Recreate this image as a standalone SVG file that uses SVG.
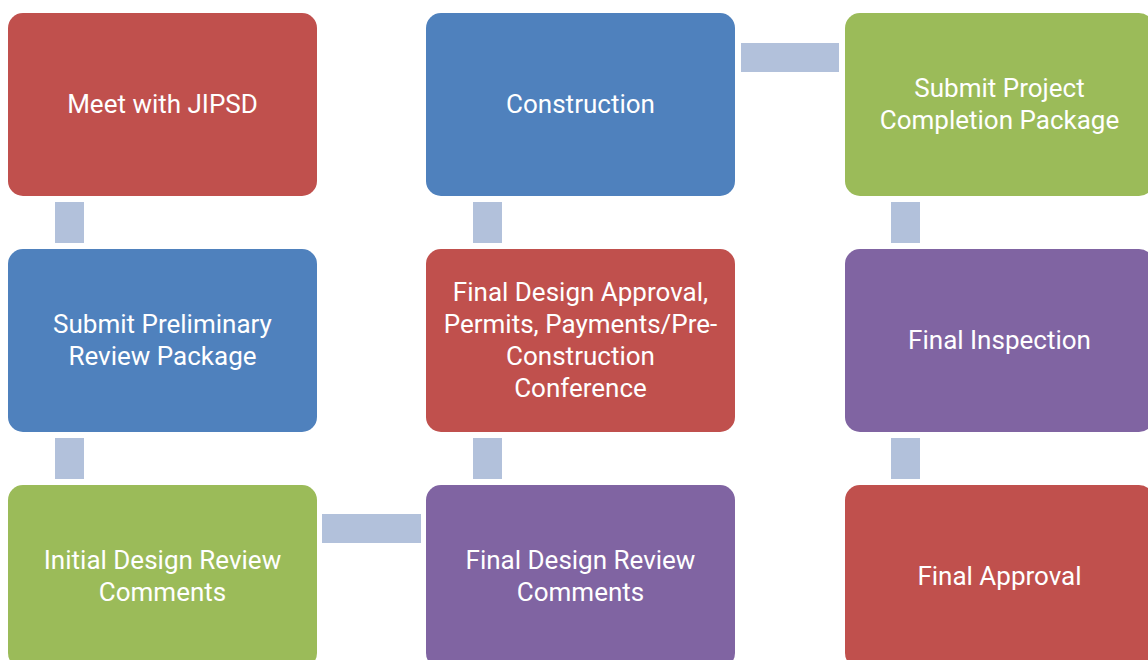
<svg xmlns="http://www.w3.org/2000/svg" width="1148" height="660" viewBox="0 0 1148 660">
<style>
.box{stroke:none}
.red{fill:#C0504D}.blue{fill:#4F81BD}.green{fill:#9BBB59}.purple{fill:#8064A2}
.conn{fill:#B2C1DB}
text{font-family:Roboto,"Liberation Sans",sans-serif;font-size:26px;fill:#FFFFFF;text-anchor:middle}
</style>
<rect width="1148" height="660" fill="#FFFFFF"/>
<g id="connectors">
<rect class="conn" x="55" y="202" width="29" height="41"/>
<rect class="conn" x="55" y="438" width="29" height="41"/>
<rect class="conn" x="322" y="514" width="99" height="29"/>
<rect class="conn" x="473" y="438" width="29" height="41"/>
<rect class="conn" x="473" y="202" width="29" height="41"/>
<rect class="conn" x="741" y="43" width="98" height="29"/>
<rect class="conn" x="891" y="202" width="29" height="41"/>
<rect class="conn" x="891" y="438" width="29" height="41"/>
</g>
<g id="n1"><rect class="box red" x="8" y="13" width="309" height="183" rx="15"/><text x="162.5" y="113">Meet with JIPSD</text></g>
<g id="n2"><rect class="box blue" x="8" y="249" width="309" height="183" rx="15"/><text x="162.5" y="333">Submit Preliminary</text><text x="162.5" y="365">Review Package</text></g>
<g id="n3"><rect class="box green" x="8" y="485" width="309" height="183" rx="15"/><text x="162.5" y="569">Initial Design Review</text><text x="162.5" y="601">Comments</text></g>
<g id="n4"><rect class="box purple" x="426" y="485" width="309" height="183" rx="15"/><text x="580.5" y="569">Final Design Review</text><text x="580.5" y="601">Comments</text></g>
<g id="n5"><rect class="box red" x="426" y="249" width="309" height="183" rx="15"/><text x="580.5" y="301">Final Design Approval,</text><text x="580.5" y="333">Permits, Payments/Pre-</text><text x="580.5" y="365">Construction</text><text x="580.5" y="397">Conference</text></g>
<g id="n6"><rect class="box blue" x="426" y="13" width="309" height="183" rx="15"/><text x="580.5" y="113">Construction</text></g>
<g id="n7"><rect class="box green" x="845" y="13" width="309" height="183" rx="15"/><text x="999.5" y="97">Submit Project</text><text x="999.5" y="129">Completion Package</text></g>
<g id="n8"><rect class="box purple" x="845" y="249" width="309" height="183" rx="15"/><text x="999.5" y="349">Final Inspection</text></g>
<g id="n9"><rect class="box red" x="845" y="485" width="309" height="183" rx="15"/><text x="999.5" y="585">Final Approval</text></g>
</svg>
